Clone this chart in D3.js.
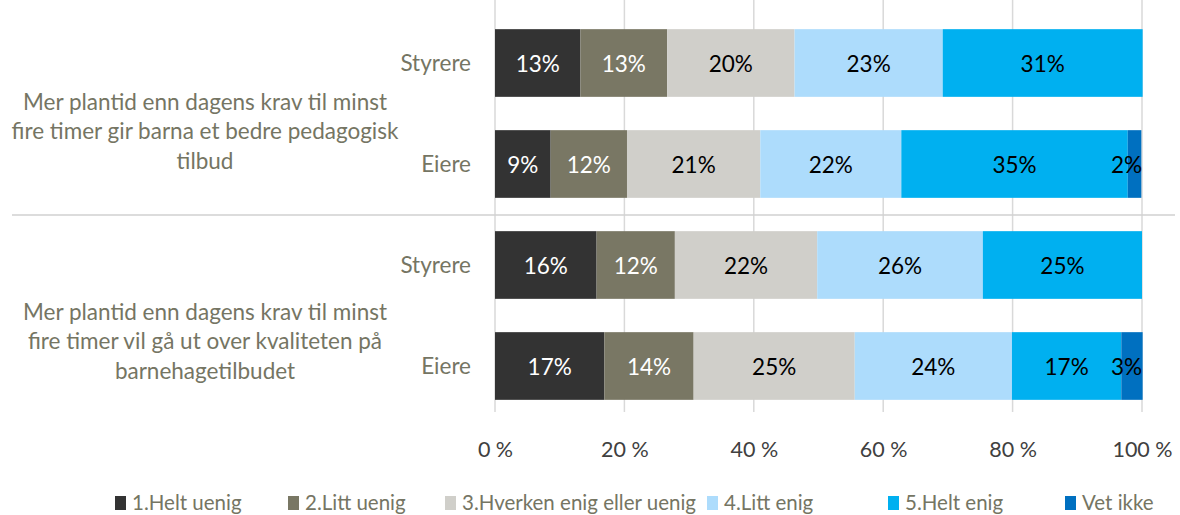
<!DOCTYPE html>
<html><head><meta charset="utf-8">
<script src="https://cdn.jsdelivr.net/npm/d3@7"></script>
<style>body{margin:0;background:#fff}svg{display:block}</style>
</head><body>
<svg id="c" width="1180" height="515"></svg>
<script>
const rowLabels = ["Styrere","Eiere","Styrere","Eiere"];
const groupLines = [
  ["Mer plantid enn dagens krav til minst","fire timer gir barna et bedre pedagogisk","tilbud"],
  ["Mer plantid enn dagens krav til minst","fire timer vil gå ut over kvaliteten på","barnehagetilbudet"]
];
const seriesNames = ["1.Helt uenig","2.Litt uenig","3.Hverken enig eller uenig","4.Litt enig","5.Helt enig","Vet ikke"];
const heltUenig = [13.2, 8.6, 15.7, 16.9];
const littUenig = [13.4, 11.8, 12.1, 13.8];
const hverken   = [19.7, 20.6, 22.0, 24.9];
const littEnig  = [22.9, 21.8, 25.6, 24.3];
const heltEnig  = [30.9, 35.0, 24.6, 16.9];
const vetIkke   = [0, 2.1, 0, 3.3];
const tickValues = [0,20,40,60,80,100];
const tickLabels = ["0 %","20 %","40 %","60 %","80 %","100 %"];

const colors = ["#333333","#797764","#d0cfca","#addcfc","#00b0f0","#0070c0"];
const labelColors = ["#ffffff","#ffffff","#000000","#000000","#000000","#000000"];
const font = "Lato, 'Open Sans', sans-serif";
const txtGray = "#757563";
const fs = 22.5;

const series = [heltUenig, littUenig, hverken, littEnig, heltEnig, vetIkke];
const rows = rowLabels.map((r,i)=>{
  const o = {id:i, label:r};
  seriesNames.forEach((s,j)=>o[s]=series[j][i]);
  return o;
});
const stack = d3.stack().keys(seriesNames)(rows);

const svg = d3.select("#c");
const x = d3.scaleLinear().domain([0,100]).range([495,1142]);
const y = d3.scaleBand().domain(rows.map(d=>d.id)).range([12.5,416.5]).paddingInner(0.33).paddingOuter(0.165);

// gridlines
svg.append("g").selectAll("line").data(tickValues).join("line")
  .attr("x1",d=>x(d)).attr("x2",d=>x(d)).attr("y1",0).attr("y2",412)
  .attr("stroke","#d9d9d9").attr("stroke-width",1.5);

// separator
svg.append("line").attr("x1",12).attr("x2",1175).attr("y1",215).attr("y2",215)
  .attr("stroke","#d0d0d0").attr("stroke-width",1.3);

// bars
const gs = svg.append("g").selectAll("g").data(stack).join("g").attr("fill",(d,i)=>colors[i]);
gs.selectAll("rect").data(d=>d.filter(p=>p[1]-p[0]>0)).join("rect")
  .attr("x",d=>x(d[0])).attr("width",d=>x(d[1])-x(d[0]))
  .attr("y",d=>y(d.data.id)).attr("height",y.bandwidth());

// value labels
stack.forEach((s,i)=>{
  s.forEach(p=>{
    const v = p[1]-p[0];
    if(v<=0) return;
    let cx = (x(p[0])+x(p[1]))/2;
    const t = svg.append("text").attr("x",cx).attr("y",y(p.data.id)+y.bandwidth()/2+8.5)
      .attr("text-anchor","middle").attr("font-family",font).attr("font-size",fs)
      .attr("fill",labelColors[i]).text(Math.round(v)+"%");
    const w = t.node().getComputedTextLength();
    if(cx + w/2 > x(100)) t.attr("x", x(100) - w/2);
  });
});

// row labels
svg.append("g").selectAll("text").data(rows).join("text")
  .attr("x",471).attr("y",d=>y(d.id)+y.bandwidth()/2+8).attr("text-anchor","end")
  .attr("font-family",font).attr("font-size",fs).attr("fill",txtGray).text(d=>d.label);

// group labels
const groupMid = [y(1)+1, y(3)+9];
groupLines.forEach((lines,g)=>{
  lines.forEach((l,k)=>{
    svg.append("text").attr("x",205).attr("y",groupMid[g]+(k-1)*29.5+8)
      .attr("text-anchor","middle").attr("font-family",font).attr("font-size",fs)
      .attr("fill",txtGray).text(l);
  });
});

// axis
const axis = d3.axisBottom(x).tickValues(tickValues).tickFormat((d,i)=>tickLabels[i]).tickSize(0).tickPadding(0);
const ag = svg.append("g").attr("transform","translate(0,442)").call(axis);
ag.select(".domain").remove();
ag.selectAll("text").attr("font-family",font).attr("font-size",21.5).attr("fill","#404040");

// legend
const legX = [115,288,445,707,888,1065];
const lg = svg.append("g").selectAll("g").data(seriesNames).join("g")
  .attr("transform",(d,i)=>`translate(${legX[i]},0)`);
lg.append("rect").attr("x",0).attr("y",496).attr("width",11).attr("height",14).attr("fill",(d,i)=>colors[i]);
lg.append("text").attr("x",17).attr("y",510).attr("font-family",font).attr("font-size",20.5)
  .attr("fill",txtGray).text(d=>d);
</script>
</body></html>
